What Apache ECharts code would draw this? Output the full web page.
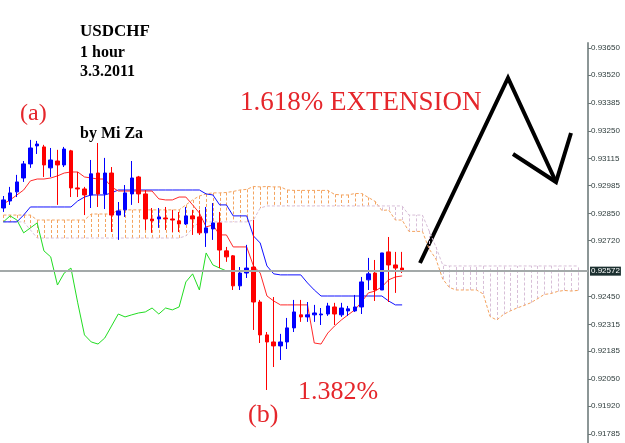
<!DOCTYPE html>
<html>
<head>
<meta charset="utf-8">
<title>USDCHF 1 hour</title>
<script src="https://cdn.jsdelivr.net/npm/echarts@6.0.0/dist/echarts.min.js"></script>
<style>
html, body { margin: 0; padding: 0; background: #fff; }
#chart-container { width: 625px; height: 443px; }
</style>
</head>
<body>
<div id="chart-container"></div>
<script>
// 60 hourly bars + 26 bars of projected cloud (+1 spare slot at the right edge)
var slotCount = 87;
var slots = [];
for (var s = 0; s < slotCount; s++) {
    slots.push('bar ' + s);
}

// [open, close, low, high]
var candles = [
    [0.92877, 0.92916, 0.92858, 0.92935], [0.92911, 0.92950, 0.92892, 0.92979],
    [0.92955, 0.93003, 0.92930, 0.93037], [0.93022, 0.93090, 0.93003, 0.93104],
    [0.93090, 0.93167, 0.93071, 0.93206], [0.93177, 0.93186, 0.93138, 0.93201],
    [0.93172, 0.93085, 0.93027, 0.93182], [0.93071, 0.93109, 0.93027, 0.93167],
    [0.93104, 0.93085, 0.92892, 0.93158], [0.93085, 0.93162, 0.93075, 0.93172],
    [0.93153, 0.92974, 0.92930, 0.93158], [0.92974, 0.92969, 0.92930, 0.93051],
    [0.92969, 0.92940, 0.92843, 0.92979], [0.92940, 0.93042, 0.92877, 0.93109],
    [0.93046, 0.92945, 0.92882, 0.93191], [0.92945, 0.93046, 0.92872, 0.93119],
    [0.93046, 0.92843, 0.92761, 0.93075], [0.92843, 0.92863, 0.92723, 0.92906],
    [0.92868, 0.92950, 0.92834, 0.92988], [0.92945, 0.93022, 0.92892, 0.93104],
    [0.93027, 0.92945, 0.92901, 0.93032], [0.92945, 0.92824, 0.92771, 0.92964],
    [0.92824, 0.92815, 0.92757, 0.92877], [0.92824, 0.92834, 0.92781, 0.92877],
    [0.92829, 0.92824, 0.92771, 0.92882], [0.92824, 0.92819, 0.92761, 0.92868],
    [0.92815, 0.92800, 0.92761, 0.92858], [0.92800, 0.92839, 0.92795, 0.92882],
    [0.92839, 0.92824, 0.92747, 0.92868], [0.92834, 0.92757, 0.92747, 0.92868],
    [0.92757, 0.92781, 0.92689, 0.92882], [0.92776, 0.92805, 0.92723, 0.92901],
    [0.92805, 0.92674, 0.92587, 0.92858], [0.92670, 0.92641, 0.92617, 0.92689],
    [0.92646, 0.92501, 0.92481, 0.92650], [0.92501, 0.92563, 0.92481, 0.92592],
    [0.92563, 0.92587, 0.92539, 0.92699], [0.92592, 0.92423, 0.92288, 0.92819],
    [0.92423, 0.92264, 0.92225, 0.92433], [0.92264, 0.92230, 0.91998, 0.92278],
    [0.92230, 0.92211, 0.92109, 0.92447], [0.92211, 0.92230, 0.92143, 0.92269],
    [0.92230, 0.92298, 0.92196, 0.92346], [0.92298, 0.92375, 0.92278, 0.92433],
    [0.92361, 0.92351, 0.92327, 0.92433], [0.92351, 0.92361, 0.92327, 0.92423],
    [0.92361, 0.92370, 0.92327, 0.92409], [0.92361, 0.92365, 0.92312, 0.92394],
    [0.92365, 0.92404, 0.92356, 0.92419], [0.92399, 0.92365, 0.92312, 0.92419],
    [0.92361, 0.92394, 0.92351, 0.92419], [0.92380, 0.92390, 0.92356, 0.92404],
    [0.92380, 0.92399, 0.92375, 0.92457], [0.92399, 0.92520, 0.92365, 0.92544],
    [0.92530, 0.92559, 0.92481, 0.92636], [0.92563, 0.92481, 0.92428, 0.92626],
    [0.92481, 0.92660, 0.92481, 0.92660], [0.92665, 0.92602, 0.92423, 0.92737],
    [0.92602, 0.92587, 0.92467, 0.92665], [0.92587, 0.92572, 0.92563, 0.92665]
];

// Ichimoku lines
var tenkan = [
    0.92897, 0.92916, 0.92940, 0.92964, 0.93008, 0.93017, 0.93017, 0.93022, 0.93032, 0.93046,
    0.93051, 0.93051, 0.93027, 0.93022, 0.93017, 0.93017, 0.92979, 0.92959, 0.92959, 0.92959,
    0.92959, 0.92959, 0.92959, 0.92921, 0.92916, 0.92916, 0.92930, 0.92930, 0.92892, 0.92853,
    0.92786, 0.92795, 0.92747, 0.92747, 0.92689, 0.92689, 0.92689, 0.92597, 0.92563, 0.92452,
    0.92428, 0.92409, 0.92409, 0.92409, 0.92409, 0.92409, 0.92225, 0.92220, 0.92273, 0.92307,
    0.92336, 0.92361, 0.92385, 0.92423, 0.92467, 0.92476, 0.92496, 0.92530, 0.92544, 0.92549
];
var kijun = [
    0.92810, 0.92810, 0.92810, 0.92843, 0.92882, 0.92882, 0.92882, 0.92882, 0.92882, 0.92882,
    0.92882, 0.92911, 0.92930, 0.92940, 0.92940, 0.92940, 0.92950, 0.92964, 0.92964, 0.92964,
    0.92964, 0.92964, 0.92964, 0.92964, 0.92964, 0.92964, 0.92964, 0.92964, 0.92964, 0.92964,
    0.92945, 0.92940, 0.92892, 0.92892, 0.92839, 0.92839, 0.92839, 0.92742, 0.92708, 0.92597,
    0.92559, 0.92554, 0.92554, 0.92554, 0.92554, 0.92515, 0.92481, 0.92452, 0.92452, 0.92452,
    0.92452, 0.92452, 0.92452, 0.92452, 0.92452, 0.92452, 0.92452, 0.92428, 0.92409, 0.92409
];
var chikou = [
    0.92810, 0.92839, 0.92819, 0.92757, 0.92781, 0.92805, 0.92670, 0.92641, 0.92505, 0.92563,
    0.92587, 0.92419, 0.92264, 0.92230, 0.92220, 0.92249, 0.92307, 0.92365, 0.92351, 0.92361,
    0.92370, 0.92375, 0.92394, 0.92365, 0.92394, 0.92385, 0.92399, 0.92520, 0.92559, 0.92481,
    0.92660, 0.92602, 0.92587, 0.92573
];
var spanA = [
    0.92843, 0.92843, 0.92843, 0.92843, 0.92843, 0.92819, 0.92819, 0.92819, 0.92819, 0.92819,
    0.92819, 0.92819, 0.92819, 0.92848, 0.92848, 0.92848, 0.92848, 0.92868, 0.92868, 0.92868,
    0.92868, 0.92868, 0.92868, 0.92868, 0.92868, 0.92868, 0.92868, 0.92892, 0.92916, 0.92935,
    0.92945, 0.92950, 0.92950, 0.92952, 0.92957, 0.92964, 0.92967, 0.92981, 0.92979, 0.92981,
    0.92979, 0.92979, 0.92964, 0.92962, 0.92962, 0.92962, 0.92962, 0.92962, 0.92962, 0.92943,
    0.92940, 0.92940, 0.92947, 0.92947, 0.92928, 0.92909, 0.92865, 0.92868, 0.92819, 0.92819,
    0.92764, 0.92764, 0.92764, 0.92679, 0.92631, 0.92534, 0.92493, 0.92481, 0.92481, 0.92481,
    0.92481, 0.92462, 0.92353, 0.92336, 0.92363, 0.92380, 0.92394, 0.92406, 0.92419, 0.92438,
    0.92459, 0.92464, 0.92474, 0.92479, 0.92476, 0.92479
];
var spanB = [
    0.92810, 0.92810, 0.92810, 0.92810, 0.92771, 0.92732, 0.92732, 0.92732, 0.92732, 0.92732,
    0.92732, 0.92732, 0.92732, 0.92732, 0.92732, 0.92732, 0.92732, 0.92732, 0.92732, 0.92732,
    0.92732, 0.92732, 0.92732, 0.92732, 0.92732, 0.92732, 0.92732, 0.92742, 0.92781, 0.92810,
    0.92810, 0.92810, 0.92810, 0.92810, 0.92810, 0.92810, 0.92810, 0.92819, 0.92877, 0.92887,
    0.92887, 0.92887, 0.92887, 0.92887, 0.92887, 0.92887, 0.92887, 0.92887, 0.92887, 0.92887,
    0.92887, 0.92887, 0.92887, 0.92887, 0.92887, 0.92887, 0.92887, 0.92887, 0.92887, 0.92887,
    0.92843, 0.92843, 0.92843, 0.92766, 0.92689, 0.92602, 0.92597, 0.92597, 0.92597, 0.92597,
    0.92597, 0.92597, 0.92597, 0.92597, 0.92597, 0.92597, 0.92597, 0.92597, 0.92597, 0.92597,
    0.92597, 0.92597, 0.92597, 0.92597, 0.92597, 0.92597
];

// price scale on the right
var tickValues = [0.93650, 0.93520, 0.93385, 0.93250, 0.93115, 0.92985, 0.92850, 0.92720,
    0.92450, 0.92315, 0.92185, 0.92050, 0.91920, 0.91785];
var lastPrice = 0.92572;

var hatch = [];
for (var h = 0; h < spanA.length; h++) {
    hatch.push([h, spanA[h], spanB[h]]);
}

var serif = '"Liberation Serif", "DejaVu Serif", serif';
var red = '#e5262b';

var option = {
    animation: false,
    backgroundColor: '#ffffff',
    grid: {
        left: -3.4,
        right: 37,
        top: 43,
        bottom: 0
    },
    xAxis: {
        type: 'category',
        data: slots,
        boundaryGap: true,
        show: false
    },
    yAxis: {
        type: 'value',
        position: 'right',
        min: 0.91742,
        max: 0.93674,
        axisLine: {
            show: true,
            lineStyle: { color: '#8c9696', width: 2 }
        },
        axisTick: {
            show: true,
            length: 3,
            customValues: tickValues,
            lineStyle: { color: '#6b7676' }
        },
        axisLabel: {
            customValues: tickValues,
            formatter: function (v) { return v.toFixed(5); },
            fontSize: 8,
            fontFamily: 'Liberation Sans',
            color: '#2e3c3c',
            margin: 3
        },
        splitLine: { show: false }
    },
    series: [
        {
            // kumo hatching: one dotted vertical per bar between the spans
            type: 'custom',
            name: 'kumo',
            data: hatch,
            encode: { x: 0, y: [1, 2] },
            z: 1,
            renderItem: function (params, api) {
                var a = api.coord([api.value(0), api.value(1)]);
                var b = api.coord([api.value(0), api.value(2)]);
                var x = Math.round(a[0]) + 0.5;
                return {
                    type: 'line',
                    shape: { x1: x, y1: a[1], x2: x, y2: b[1] },
                    style: {
                        stroke: api.value(1) >= api.value(2) ? '#f4a460' : '#d8bfd8',
                        lineWidth: 1,
                        lineDash: [3, 2]
                    }
                };
            }
        },
        {
            type: 'line',
            name: 'Senkou Span A',
            data: spanA,
            symbol: 'none',
            z: 2,
            lineStyle: { color: '#f4a460', width: 1, type: [3, 2] }
        },
        {
            type: 'line',
            name: 'Senkou Span B',
            data: spanB,
            symbol: 'none',
            z: 2,
            lineStyle: { color: '#d8bfd8', width: 1, type: [3, 2] }
        },
        {
            type: 'line',
            name: 'Chikou Span',
            data: chikou,
            symbol: 'none',
            z: 3,
            lineStyle: { color: '#22dd22', width: 1 }
        },
        {
            type: 'line',
            name: 'Kijun-sen',
            data: kijun,
            symbol: 'none',
            z: 3,
            lineStyle: { color: '#1010ff', width: 1 }
        },
        {
            type: 'line',
            name: 'Tenkan-sen',
            data: tenkan,
            symbol: 'none',
            z: 3,
            lineStyle: { color: '#ff2a2a', width: 1 },
            // current price line with its tag on the price scale
            markLine: {
                silent: true,
                symbol: 'none',
                precision: 5,
                data: [{ yAxis: lastPrice }],
                lineStyle: { color: '#a3a9a9', width: 2, type: 'solid' },
                label: {
                    show: true,
                    position: 'end',
                    distance: 2,
                    formatter: lastPrice.toFixed(5),
                    backgroundColor: '#1c3030',
                    color: '#ffffff',
                    fontSize: 8,
                    fontFamily: 'Liberation Sans',
                    padding: [1, 1, 0, 1]
                }
            }
        },
        {
            type: 'candlestick',
            name: 'USDCHF',
            data: candles,
            barWidth: 4,
            z: 4,
            itemStyle: {
                color: '#0000ff',
                color0: '#ff0000',
                borderColor: '#0000ff',
                borderColor0: '#ff0000',
                borderWidth: 1
            }
        }
    ],
    graphic: [
        { type: 'text', x: 80, y: 32, style: { text: 'USDCHF', font: 'bold 17px ' + serif, fill: '#000', verticalAlign: 'middle' } },
        { type: 'text', x: 80, y: 53, style: { text: '1 hour', font: 'bold 16px ' + serif, fill: '#000', verticalAlign: 'middle' } },
        { type: 'text', x: 80, y: 72, style: { text: '3.3.2011', font: 'bold 16px ' + serif, fill: '#000', verticalAlign: 'middle' } },
        { type: 'text', x: 80, y: 134, style: { text: 'by Mi Za', font: 'bold 16px ' + serif, fill: '#000', verticalAlign: 'middle' } },
        { type: 'text', x: 20, y: 114, style: { text: '(a)', font: '24px ' + serif, fill: red, verticalAlign: 'middle' } },
        { type: 'text', x: 240, y: 103, style: { text: '1.618% EXTENSION', font: '27px ' + serif, fill: red, verticalAlign: 'middle' } },
        { type: 'text', x: 298, y: 392, style: { text: '1.382%', font: '26px ' + serif, fill: red, verticalAlign: 'middle' } },
        { type: 'text', x: 248, y: 415, style: { text: '(b)', font: '26px ' + serif, fill: red, verticalAlign: 'middle' } },
        {
            type: 'polyline',
            shape: { points: [[420, 263], [508, 78], [556, 182]] },
            style: { stroke: '#000', lineWidth: 4, fill: null }
        },
        {
            type: 'polyline',
            shape: { points: [[513, 154], [556, 182], [571, 133]] },
            style: { stroke: '#000', lineWidth: 4, fill: null }
        }
    ]
};

var myChart = echarts.init(document.getElementById('chart-container'));
myChart.setOption(option);
</script>
</body>
</html>
